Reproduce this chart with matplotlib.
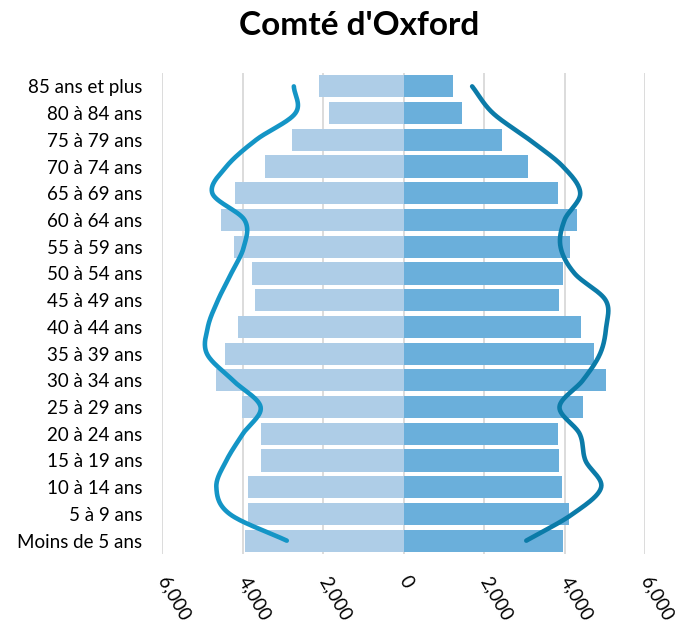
import numpy as np
import matplotlib
matplotlib.use("Agg")
import matplotlib.pyplot as plt
from matplotlib.ticker import FuncFormatter

plt.rcParams['font.family'] = ['Lato', 'DejaVu Sans']

categories = ["85 ans et plus", "80 à 84 ans", "75 à 79 ans", "70 à 74 ans",
              "65 à 69 ans", "60 à 64 ans", "55 à 59 ans", "50 à 54 ans",
              "45 à 49 ans", "40 à 44 ans", "35 à 39 ans", "30 à 34 ans",
              "25 à 29 ans", "20 à 24 ans", "15 à 19 ans", "10 à 14 ans",
              "5 à 9 ans", "Moins de 5 ans"]

hommes = [2100, 1840, 2780, 3450, 4190, 4530, 4215, 3770, 3685,
          4100, 4440, 4655, 4020, 3550, 3530, 3860, 3875, 3940]
femmes = [1240, 1460, 2450, 3090, 3830, 4300, 4125, 3950, 3875,
          4405, 4720, 5030, 4455, 3845, 3875, 3925, 4100, 3965]

# comparison profile (smoothed lines)
ref_hommes = [2725, 2685, 3660, 4400, 4750, 3950, 3965, 4280, 4610,
              4860, 4885, 4240, 3550, 3990, 4400, 4650, 4320, 2900]
ref_femmes = [1705, 2220, 3130, 3960, 4390, 4000, 3900, 4250, 5020,
              5035, 4885, 4455, 3875, 4375, 4520, 4910, 4205, 3050]

xticks = [-6000, -4000, -2000, 0, 2000, 4000, 6000]


def catmull_rom(xs, ys, n=30):
    P = np.column_stack([xs, ys]).astype(float)
    P = np.vstack([2 * P[0] - P[1], P, 2 * P[-1] - P[-2]])
    out = []
    for i in range(1, len(P) - 2):
        p0, p1, p2, p3 = P[i - 1], P[i], P[i + 1], P[i + 2]
        t = np.linspace(0, 1, n, endpoint=False)[:, None]
        c = 0.5 * ((2 * p1) + (-p0 + p2) * t + (2 * p0 - 5 * p1 + 4 * p2 - p3) * t ** 2
                   + (-p0 + 3 * p1 - 3 * p2 + p3) * t ** 3)
        out.append(c)
    out.append(P[-2][None, :])
    c = np.vstack(out)
    return c[:, 0], c[:, 1]


fig = plt.figure(figsize=(6.75, 6.31), dpi=100)
ax = fig.add_axes([0.24, 0.122, 0.7156, 0.7623])

n = len(categories)
y = np.arange(n)[::-1]

ax.barh(y, [-v for v in hommes], height=0.83, color="#aecde7", zorder=2)
ax.barh(y, femmes, height=0.83, color="#6aafdb", zorder=2)

lx, ly = catmull_rom([-v for v in ref_hommes], y)
ax.plot(lx, ly, color="#1495c6", lw=3.3, solid_capstyle='round', zorder=3)
rx, ry = catmull_rom(ref_femmes, y)
ax.plot(rx, ry, color="#0b7ba8", lw=3.3, solid_capstyle='round', zorder=3)

ax.set_xlim(-6000, 6000)
ax.set_ylim(-0.5, n - 0.5)
ax.set_xticks(xticks)
ax.xaxis.set_major_formatter(FuncFormatter(lambda v, p: f"{abs(int(v)):,}"))
ax.set_yticks(y)
ax.set_yticklabels(categories, fontsize=13.5)
ax.grid(axis='x', color="#d9d9d9", lw=1.3, zorder=0)
ax.set_axisbelow(True)
for s in ax.spines.values():
    s.set_visible(False)
ax.tick_params(axis='both', length=0)
ax.tick_params(axis='y', pad=14)
ax.tick_params(axis='x', pad=17)
for lab in ax.get_xticklabels():
    lab.set_rotation(-60)
    lab.set_rotation_mode('anchor')
    lab.set_ha('left')
    lab.set_va('center')
    lab.set_fontsize(13.5)

fig.text(0.532, 0.960, "Comté d'Oxford", ha='center', va='center',
         fontsize=24, fontweight='bold')

fig.savefig("out.png", dpi=100)
